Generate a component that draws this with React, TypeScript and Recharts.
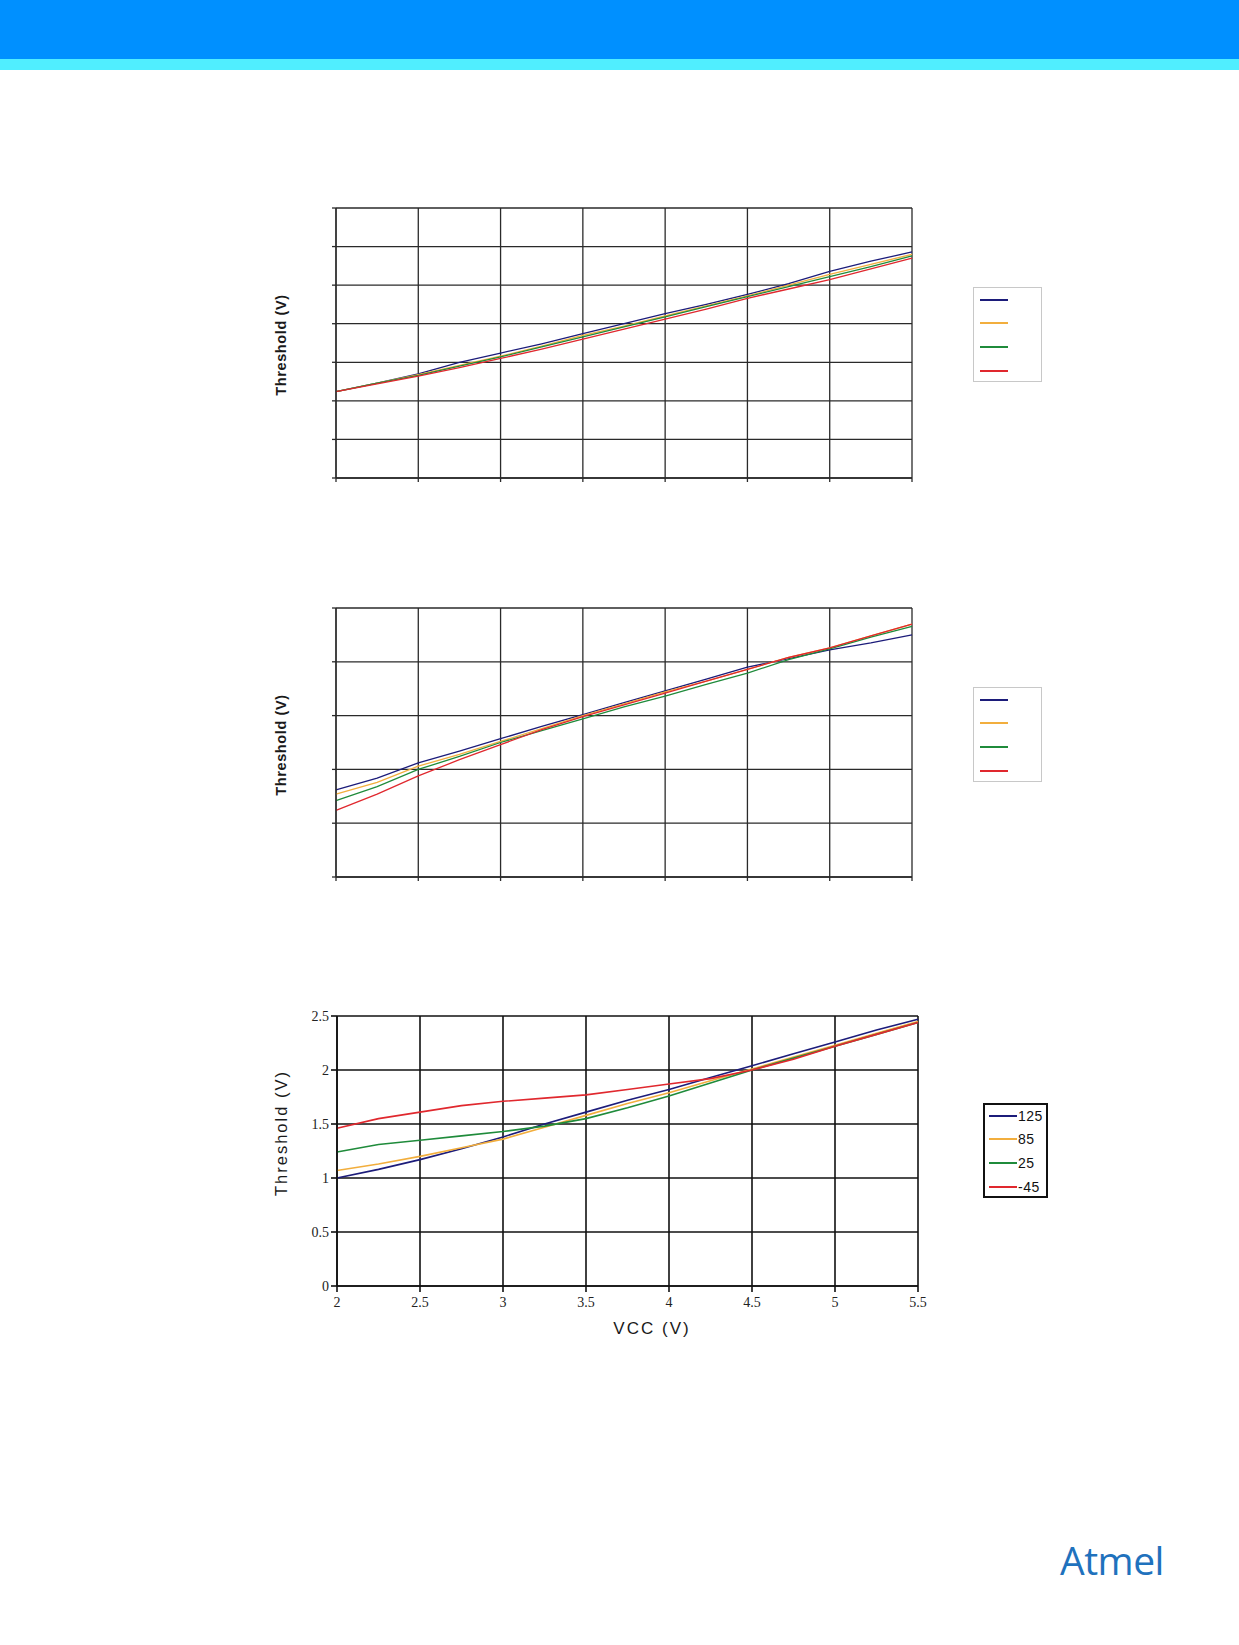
import React from "react";
import { LineChart, Line, XAxis, YAxis, CartesianGrid } from "recharts";

// VCC sample points shared by all three plots
const VCC = [2, 2.25, 2.5, 2.75, 3, 3.25, 3.5, 3.75, 4, 4.25, 4.5, 4.75, 5, 5.25, 5.5];
const VCC_TICKS = [2, 2.5, 3, 3.5, 4, 4.5, 5, 5.5];

const SERIES_NAMES = ["125", "85", "25", "-45"];
const SERIES_COLORS = ["#1c1c7a", "#f2ae3d", "#1f8b3b", "#e0282e"];

// chart 1 (tick labels blanked in the source)
const C1_TICKS = [0, 0.5, 1, 1.5, 2, 2.5, 3, 3.5];
const C1_125 = [1.12, 1.23, 1.35, 1.5, 1.62, 1.74, 1.87, 2.0, 2.13, 2.25, 2.38, 2.52, 2.68, 2.81, 2.93];
const C1_85 = [1.12, 1.23, 1.34, 1.46, 1.58, 1.71, 1.85, 1.97, 2.1, 2.23, 2.36, 2.5, 2.64, 2.77, 2.9];
const C1_25 = [1.12, 1.23, 1.33, 1.45, 1.57, 1.7, 1.83, 1.96, 2.09, 2.22, 2.35, 2.48, 2.61, 2.74, 2.88];
const C1_M45 = [1.12, 1.22, 1.32, 1.43, 1.55, 1.67, 1.8, 1.93, 2.06, 2.19, 2.33, 2.45, 2.57, 2.71, 2.85];

// chart 2 (tick labels blanked in the source)
const C2_TICKS = [0, 0.5, 1, 1.5, 2, 2.5];
const C2_125 = [0.81, 0.92, 1.06, 1.17, 1.285, 1.4, 1.51, 1.62, 1.73, 1.84, 1.95, 2.03, 2.11, 2.175, 2.25];
const C2_85 = [0.77, 0.88, 1.03, 1.14, 1.26, 1.38, 1.5, 1.61, 1.72, 1.82, 1.93, 2.04, 2.13, 2.24, 2.35];
const C2_25 = [0.71, 0.84, 1.0, 1.12, 1.25, 1.36, 1.47, 1.58, 1.68, 1.79, 1.895, 2.02, 2.12, 2.23, 2.33];
const C2_M45 = [0.62, 0.77, 0.94, 1.09, 1.23, 1.37, 1.49, 1.6, 1.71, 1.82, 1.93, 2.04, 2.13, 2.24, 2.35];

// chart 3
const C3_TICKS = [0, 0.5, 1, 1.5, 2, 2.5];
const C3_125 = [1.0, 1.08, 1.17, 1.27, 1.38, 1.5, 1.61, 1.72, 1.82, 1.93, 2.04, 2.15, 2.26, 2.37, 2.47];
const C3_85 = [1.07, 1.13, 1.2, 1.28, 1.36, 1.47, 1.58, 1.69, 1.79, 1.9, 2.01, 2.12, 2.23, 2.34, 2.45];
const C3_25 = [1.24, 1.31, 1.35, 1.39, 1.43, 1.48, 1.55, 1.65, 1.76, 1.88, 2.0, 2.11, 2.22, 2.33, 2.44];
const C3_M45 = [1.46, 1.55, 1.61, 1.67, 1.71, 1.74, 1.77, 1.82, 1.87, 1.92, 2.0, 2.1, 2.22, 2.33, 2.44];

const KEYS = ["s0", "s1", "s2", "s3"];

function buildRows(series: number[][]) {
  return VCC.map((vcc, i) => {
    const row: Record<string, number> = { vcc };
    series.forEach((s, k) => (row[KEYS[k]] = s[i]));
    return row;
  });
}

interface ThresholdChartProps {
  top: number;
  height: number;
  plotTop: number;
  plotBottom: number;
  plotRight: number;
  yTicks: number[];
  series: number[][];
  labelled?: boolean;
}

function ThresholdChart({
  top,
  height,
  plotTop,
  plotBottom,
  plotRight,
  yTicks,
  series,
  labelled = false,
}: ThresholdChartProps) {
  const left = 240;
  const width = 700;
  const axisW = labelled ? 97 : 96;
  const gridColor = labelled ? "#111" : "#2a2a2a";
  const gridW = labelled ? 1.6 : 1.3;
  const tickStyle = labelled
    ? { fontSize: 14, fill: "#222", fontFamily: "Liberation Serif" }
    : { fontSize: 1, fill: "transparent" };
  return (
    <div style={{ position: "absolute", left, top, width, height }}>
      <LineChart
        width={width}
        height={height}
        data={buildRows(series)}
        margin={{ top: plotTop - top, right: left + width - plotRight, left: 0, bottom: 0 }}
      >
        <CartesianGrid stroke={gridColor} strokeWidth={gridW} />
        <XAxis
          dataKey="vcc"
          type="number"
          domain={[2, 5.5]}
          ticks={VCC_TICKS}
          height={top + height - plotBottom}
          tick={tickStyle}
          tickFormatter={(v) => (labelled ? String(v) : "")}
          tickSize={labelled ? 6 : 4}
          tickMargin={labelled ? 5 : 2}
          tickLine={{ stroke: gridColor, strokeWidth: gridW }}
          axisLine={{ stroke: gridColor, strokeWidth: gridW }}
        />
        <YAxis
          type="number"
          domain={[yTicks[0], yTicks[yTicks.length - 1]]}
          ticks={yTicks}
          width={axisW}
          tick={tickStyle}
          tickFormatter={(v) => (labelled ? String(v) : "")}
          tickSize={labelled ? 6 : 4}
          tickMargin={2}
          tickLine={{ stroke: gridColor, strokeWidth: gridW }}
          axisLine={{ stroke: gridColor, strokeWidth: gridW }}
        />
        {KEYS.map((k, i) => (
          <Line
            key={k}
            dataKey={k}
            name={SERIES_NAMES[i]}
            type="linear"
            stroke={SERIES_COLORS[i]}
            strokeWidth={labelled ? 1.6 : 1.3}
            dot={false}
            isAnimationActive={false}
          />
        ))}
      </LineChart>
    </div>
  );
}

function YTitle({ y, bold }: { y: number; bold?: boolean }) {
  return (
    <div
      style={{
        position: "absolute",
        left: 281 - 100,
        top: y - 10,
        width: 200,
        height: 20,
        lineHeight: "20px",
        textAlign: "center",
        transform: "rotate(-90deg)",
        fontFamily: "Liberation Sans, Arial, sans-serif",
        fontSize: bold ? 14.5 : 16.5,
        fontWeight: bold ? 700 : 400,
        letterSpacing: bold ? 0.6 : 2,
        color: "#1a1a1a",
        whiteSpace: "nowrap",
      }}
    >
      Threshold (V)
    </div>
  );
}

function Legend({ x, y, w, h, named }: { x: number; y: number; w: number; h: number; named?: boolean }) {
  const rows = [13, 36, 60, 84];
  const bw = named ? 2 : 1;
  return (
    <svg
      width={w}
      height={h}
      style={{ position: "absolute", left: x, top: y, display: "block" }}
    >
      <rect
        x={bw / 2}
        y={bw / 2}
        width={w - bw}
        height={h - bw}
        fill="#fff"
        stroke={named ? "#111" : "#c8c8c8"}
        strokeWidth={bw}
      />
      {SERIES_NAMES.map((n, i) => (
        <g key={n}>
          <rect x={named ? 6 : 7} y={rows[i] - 1} width={28} height={2} fill={SERIES_COLORS[i]} />
          {named && (
            <text
              x={35}
              y={rows[i] + 5}
              fontFamily="Liberation Sans, Arial, sans-serif"
              fontSize={14}
              fill="#111"
              letterSpacing={0.5}
            >
              {n}
            </text>
          )}
        </g>
      ))}
    </svg>
  );
}

export default function App() {
  return (
    <div style={{ position: "absolute", left: 0, top: 0, width: 1239, height: 1645, background: "#fff", overflow: "hidden" }}>
      <div style={{ position: "absolute", left: 0, top: 0, width: 1239, height: 59, background: "#0090ff" }} />
      <div style={{ position: "absolute", left: 0, top: 59, width: 1239, height: 11, background: "#50eeff" }} />

      <ThresholdChart
        top={180}
        height={330}
        plotTop={208}
        plotBottom={478}
        plotRight={912}
        yTicks={C1_TICKS}
        series={[C1_125, C1_85, C1_25, C1_M45]}
      />
      <YTitle y={345} bold />
      <Legend x={973} y={287} w={69} h={95} />

      <ThresholdChart
        top={590}
        height={320}
        plotTop={608}
        plotBottom={877}
        plotRight={912}
        yTicks={C2_TICKS}
        series={[C2_125, C2_85, C2_25, C2_M45]}
      />
      <YTitle y={745} bold />
      <Legend x={973} y={687} w={69} h={95} />

      <ThresholdChart
        top={1000}
        height={360}
        plotTop={1016}
        plotBottom={1286}
        plotRight={918}
        yTicks={C3_TICKS}
        series={[C3_125, C3_85, C3_25, C3_M45]}
        labelled
      />
      <YTitle y={1133} />
      <div
        style={{
          position: "absolute",
          left: 552,
          top: 1319,
          width: 200,
          textAlign: "center",
          fontFamily: "Liberation Sans, Arial, sans-serif",
          fontSize: 17,
          letterSpacing: 2,
          color: "#1a1a1a",
        }}
      >
        VCC (V)
      </div>
      <Legend x={983} y={1103} w={65} h={95} named />

      <div
        style={{
          position: "absolute",
          left: 1060,
          top: 1533,
          fontFamily: "Open Sans, sans-serif",
          fontSize: 39,
          fontWeight: 500,
          color: "#1f72bd",
          letterSpacing: -0.5,
        }}
      >
        Atmel
      </div>
    </div>
  );
}
